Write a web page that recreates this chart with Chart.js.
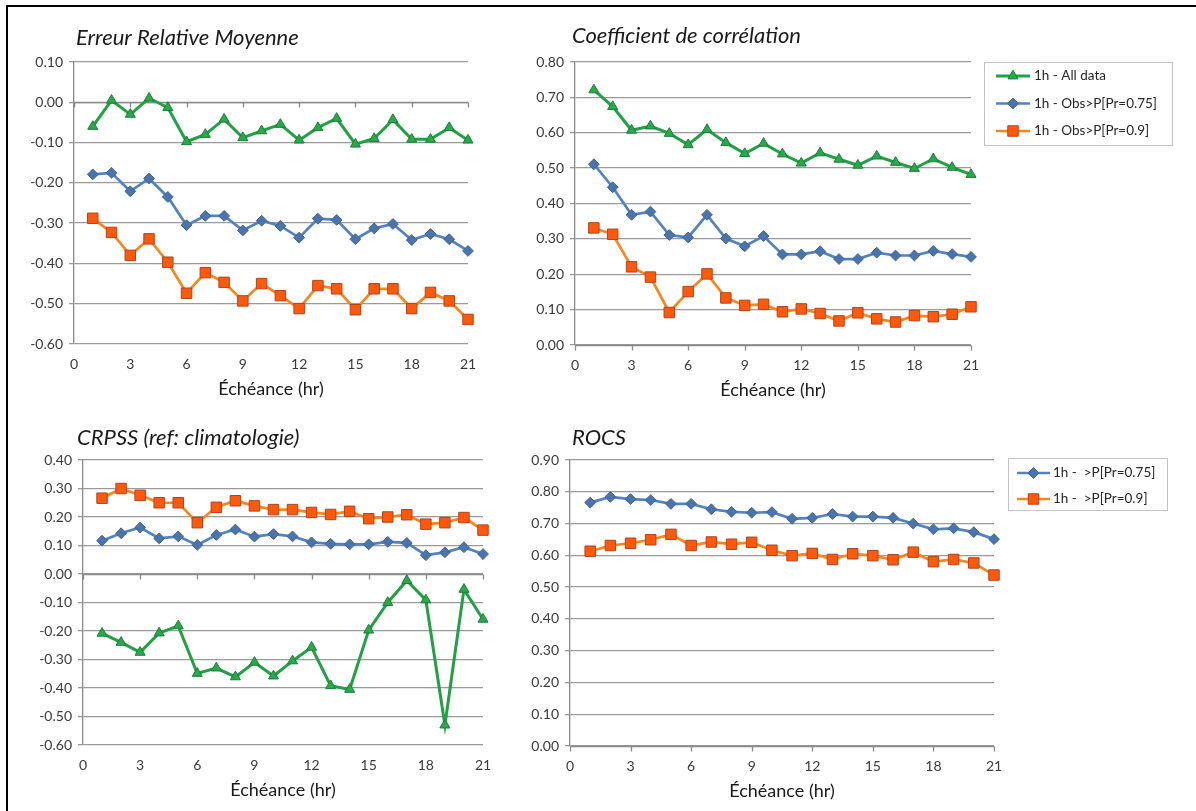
<!DOCTYPE html>
<html lang="fr">
<head>
<meta charset="utf-8">
<title>Scores de prévision par échéance</title>
<script src="https://cdn.jsdelivr.net/npm/chart.js@4/dist/chart.umd.min.js"></script>
<style>
  html, body { margin: 0; padding: 0; background: #fff; }
  #page { position: relative; width: 1196px; height: 811px; overflow: hidden; background: #fff; }
  #frame { position: absolute; left: 6px; top: 5px; width: 1400px; height: 1000px;
           border-left: 2px solid #000; border-top: 2px solid #000; }
  canvas { position: absolute; }
</style>
</head>
<body>
<div id="page">
  <div id="frame"></div>
  <canvas id="cErm"  style="left:0;top:0"></canvas>
  <canvas id="cCorr" style="left:510px;top:0"></canvas>
  <canvas id="cCrps" style="left:0;top:405px"></canvas>
  <canvas id="cRocs" style="left:510px;top:405px"></canvas>
</div>
<script>
// Échéances (heures)
const hours = [1,2,3,4,5,6,7,8,9,10,11,12,13,14,15,16,17,18,19,20,21];

// Erreur relative moyenne
const ermAll  = [-0.060, 0.005, -0.030, 0.010, -0.013, -0.098, -0.080, -0.042, -0.088, -0.071, -0.055,
                 -0.094, -0.063, -0.040, -0.104, -0.090, -0.043, -0.092, -0.092, -0.063, -0.094];
const ermP75  = [-0.179, -0.175, -0.221, -0.189, -0.235, -0.305, -0.282, -0.282, -0.318, -0.294, -0.307,
                 -0.336, -0.289, -0.292, -0.340, -0.313, -0.302, -0.342, -0.327, -0.340, -0.369];
const ermP90  = [-0.288, -0.323, -0.380, -0.339, -0.397, -0.474, -0.423, -0.447, -0.493, -0.450, -0.480,
                 -0.512, -0.455, -0.463, -0.515, -0.463, -0.463, -0.512, -0.472, -0.493, -0.539];

// Coefficient de corrélation
const corrAll = [0.721, 0.674, 0.607, 0.619, 0.598, 0.566, 0.609, 0.572, 0.541, 0.570, 0.540,
                 0.514, 0.543, 0.525, 0.508, 0.534, 0.516, 0.499, 0.526, 0.502, 0.482];
const corrP75 = [0.511, 0.446, 0.368, 0.377, 0.311, 0.304, 0.368, 0.301, 0.279, 0.308, 0.256,
                 0.256, 0.265, 0.243, 0.243, 0.261, 0.253, 0.253, 0.266, 0.257, 0.249];
const corrP90 = [0.331, 0.313, 0.221, 0.192, 0.092, 0.151, 0.201, 0.133, 0.112, 0.115, 0.094,
                 0.102, 0.089, 0.068, 0.091, 0.074, 0.065, 0.083, 0.080, 0.087, 0.108];

// CRPSS (référence : climatologie)
const crpsAll = [-0.208, -0.240, -0.275, -0.207, -0.182, -0.349, -0.330, -0.361, -0.310, -0.358, -0.305,
                 -0.257, -0.392, -0.405, -0.197, -0.100, -0.023, -0.091, -0.530, -0.054, -0.159];
const crpsP75 = [0.117, 0.143, 0.163, 0.125, 0.132, 0.102, 0.137, 0.156, 0.131, 0.140, 0.132,
                 0.111, 0.106, 0.104, 0.104, 0.113, 0.109, 0.066, 0.076, 0.094, 0.070];
const crpsP90 = [0.266, 0.300, 0.276, 0.250, 0.250, 0.180, 0.234, 0.257, 0.239, 0.226, 0.226,
                 0.216, 0.209, 0.220, 0.194, 0.200, 0.208, 0.175, 0.180, 0.198, 0.154];

// ROCS
const rocsP75 = [0.766, 0.784, 0.777, 0.774, 0.762, 0.762, 0.745, 0.737, 0.734, 0.736, 0.715,
                 0.718, 0.730, 0.722, 0.722, 0.718, 0.700, 0.682, 0.685, 0.673, 0.651];
const rocsP90 = [0.613, 0.631, 0.638, 0.649, 0.666, 0.631, 0.642, 0.635, 0.641, 0.616, 0.599,
                 0.606, 0.587, 0.605, 0.599, 0.586, 0.610, 0.580, 0.587, 0.576, 0.538];

// Libellés des séries
const labelsCorr = ['1h - All data', '1h - Obs>P[Pr=0.75]', '1h - Obs>P[Pr=0.9]'];
const labelsRocs = ['1h -  >P[Pr=0.75]', '1h -  >P[Pr=0.9]'];
const axisTitle = 'Échéance (hr)';

const FONT = "Lato, 'Open Sans', sans-serif";

// Styles des trois familles de courbes
const STYLE = {
  all: { borderColor: '#22a044', backgroundColor: '#2aa84a', pointBorderColor: '#17803a',
         pointStyle: 'triangle', pointRadius: 5.8, borderWidth: 3 },
  p75: { borderColor: '#5283be', backgroundColor: '#4a74ab', pointBorderColor: '#3d6496',
         pointStyle: 'rectRot', pointRadius: 5.4, borderWidth: 2.7 },
  p90: { borderColor: '#f7861f', backgroundColor: '#ff5a0c', pointBorderColor: '#b5421c',
         pointStyle: 'rect', pointRadius: 7.4, borderWidth: 2.7 }
};

function series(label, values, kind) {
  const s = STYLE[kind];
  return {
    label,
    data: values.map((v, i) => ({ x: hours[i], y: v })),
    borderColor: s.borderColor,
    borderWidth: s.borderWidth,
    pointStyle: s.pointStyle,
    pointRadius: s.pointRadius,
    pointBorderWidth: 1,
    pointBackgroundColor: s.backgroundColor,
    pointBorderColor: s.pointBorderColor,
    tension: 0,
    fill: false,
    clip: false
  };
}

// Titre en italique aligné sur la zone de tracé
const panelTitle = {
  id: 'panelTitle',
  afterDraw(chart, args, opts) {
    const { ctx, chartArea } = chart;
    ctx.save();
    ctx.font = `italic ${opts.size}px ${FONT}`;
    ctx.fillStyle = '#1a1a1a';
    ctx.textAlign = 'left';
    ctx.textBaseline = 'alphabetic';
    ctx.fillText(opts.text, chartArea.left + opts.dx, opts.baseline);
    ctx.restore();
  }
};

// Axe horizontal tracé à la valeur 0 avec ses graduations
const zeroAxis = {
  id: 'zeroAxis',
  beforeDatasetsDraw(chart) {
    const { ctx, chartArea, scales: { x, y } } = chart;
    const y0 = Math.round(y.getPixelForValue(0)) + 0.5;
    ctx.save();
    ctx.strokeStyle = '#8a8a8a';
    ctx.lineWidth = 1.3;
    ctx.beginPath();
    ctx.moveTo(chartArea.left, y0);
    ctx.lineTo(chartArea.right, y0);
    x.ticks.forEach(t => {
      const px = Math.round(x.getPixelForValue(t.value)) + 0.5;
      ctx.moveTo(px, y0);
      ctx.lineTo(px, y0 + 5);
    });
    ctx.stroke();
    ctx.restore();
  }
};

// Légende encadrée : trait + marqueur de chaque série
const boxLegend = {
  id: 'boxLegend',
  afterDraw(chart, args, opts) {
    if (!opts.display) return;
    const { ctx } = chart;
    ctx.save();
    ctx.fillStyle = '#ffffff';
    ctx.fillRect(opts.x, opts.y, opts.w, opts.h);
    ctx.strokeStyle = '#c4c4c4';
    ctx.lineWidth = 1;
    ctx.strokeRect(opts.x + 0.5, opts.y + 0.5, opts.w, opts.h);
    ctx.font = `${opts.size}px ${FONT}`;
    ctx.textBaseline = 'middle';
    chart.data.datasets.forEach((ds, i) => {
      const cy = opts.y + opts.first + i * opts.step;
      const x1 = opts.x + opts.lineFrom, x2 = opts.x + opts.lineTo;
      ctx.strokeStyle = ds.borderColor;
      ctx.lineWidth = ds.borderWidth;
      ctx.beginPath();
      ctx.moveTo(x1, cy);
      ctx.lineTo(x2, cy);
      ctx.stroke();
      ctx.fillStyle = ds.pointBackgroundColor;
      ctx.strokeStyle = ds.pointBorderColor;
      ctx.lineWidth = 1;
      Chart.helpers.drawPoint(ctx, {
        pointStyle: ds.pointStyle, radius: ds.pointRadius, borderWidth: 1, rotation: 0
      }, (x1 + x2) / 2, cy);
      ctx.fillStyle = '#262626';
      ctx.fillText(ds.label, opts.x + opts.textAt, cy);
    });
    ctx.restore();
  }
};

function makeChart(id, cfg) {
  const canvas = document.getElementById(id);
  canvas.width = cfg.width;
  canvas.height = cfg.height;
  canvas.style.width = cfg.width + 'px';
  canvas.style.height = cfg.height + 'px';
  return new Chart(canvas, {
    type: 'line',
    data: { datasets: cfg.datasets },
    plugins: [panelTitle, zeroAxis, boxLegend],
    options: {
      responsive: false,
      animation: false,
      devicePixelRatio: 1,
      layout: { padding: cfg.padding },
      plugins: {
        legend: { display: false },
        tooltip: { enabled: false },
        panelTitle: cfg.title,
        boxLegend: cfg.legend || { display: false }
      },
      scales: {
        x: {
          type: 'linear',
          min: 0, max: 21,
          afterFit: s => { s.height = 56; },
          grid: { display: false, drawTicks: false },
          border: { display: false },
          ticks: { stepSize: 3, padding: 12, color: '#3a3a3a',
                   font: { family: FONT, size: 14 }, maxRotation: 0 },
          title: { display: true, text: axisTitle, color: '#1a1a1a',
                   font: { family: FONT, size: 18 }, padding: { top: 0, bottom: 0 } }
        },
        y: {
          min: cfg.yMin, max: cfg.yMax,
          afterFit: s => { s.width = 50; },
          grid: { color: '#9a9a9a', lineWidth: 1.3, tickLength: 5, drawTicks: true },
          border: { display: true, color: '#8a8a8a', width: 1.3 },
          ticks: {
            stepSize: 0.1, padding: 6, color: '#3a3a3a',
            font: { family: FONT, size: 14 },
            callback: v => (Math.abs(v) < 1e-9 ? 0 : v).toFixed(2)
          }
        }
      }
    }
  });
}

makeChart('cErm', {
  width: 510, height: 405,
  padding: { left: 24, top: 62, right: 42, bottom: 5 },
  yMin: -0.6, yMax: 0.1,
  title: { text: 'Erreur Relative Moyenne', dx: 2, baseline: 45, size: 22 },
  datasets: [
    series(labelsCorr[0], ermAll, 'all'),
    series(labelsCorr[1], ermP75, 'p75'),
    series(labelsCorr[2], ermP90, 'p90')
  ]
});

makeChart('cCorr', {
  width: 686, height: 405,
  padding: { left: 15, top: 62, right: 225, bottom: 4 },
  yMin: 0, yMax: 0.8,
  title: { text: 'Coefficient de corrélation', dx: -3, baseline: 43, size: 22 },
  legend: { display: true, x: 474, y: 62, w: 188, h: 83, first: 14, step: 27.5,
            lineFrom: 12, lineTo: 46, textAt: 50, size: 13.5 },
  datasets: [
    series(labelsCorr[0], corrAll, 'all'),
    series(labelsCorr[1], corrP75, 'p75'),
    series(labelsCorr[2], corrP90, 'p90')
  ]
});

makeChart('cCrps', {
  width: 510, height: 406,
  padding: { left: 33, top: 55, right: 27, bottom: 10 },
  yMin: -0.6, yMax: 0.4,
  title: { text: 'CRPSS (ref: climatologie)', dx: -6, baseline: 40, size: 22 },
  datasets: [
    series(labelsCorr[0], crpsAll, 'all'),
    series(labelsCorr[1], crpsP75, 'p75'),
    series(labelsCorr[2], crpsP90, 'p90')
  ]
});

makeChart('cRocs', {
  width: 686, height: 406,
  padding: { left: 10, top: 55, right: 202, bottom: 9 },
  yMin: 0, yMax: 0.9,
  title: { text: 'ROCS', dx: 2, baseline: 40, size: 22 },
  legend: { display: true, x: 498, y: 53, w: 159, h: 52, first: 15, step: 26,
            lineFrom: 9, lineTo: 42, textAt: 45, size: 13.5 },
  datasets: [
    series(labelsRocs[0], rocsP75, 'p75'),
    series(labelsRocs[1], rocsP90, 'p90')
  ]
});
</script>
</body>
</html>
